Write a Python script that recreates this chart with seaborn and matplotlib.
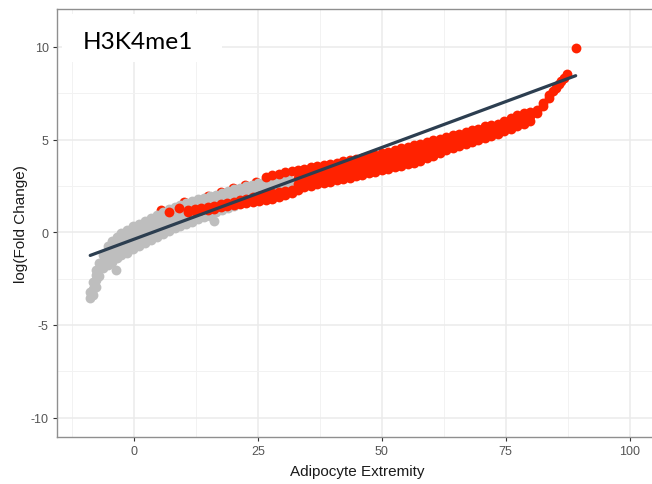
import numpy as np
import pandas as pd
import matplotlib
matplotlib.use("Agg")
import matplotlib.pyplot as plt
from matplotlib.ticker import MultipleLocator
from matplotlib.patches import Rectangle
import seaborn as sns

# values, one entry per column of the point cloud
gray_x = [-8.8, -8.3, -7.7, -7.0, -6.2, -5.3, -4.4, -3.5, -2.5, -1.4, -0.2, 1.0,
          2.2, 3.4, 4.6, 5.8, 7.0, 8.2, 9.4, 10.6, 11.8, 13.0, 14.2, 15.4, 16.6,
          17.8, 19.0, 20.2, 21.4, 22.6, 23.8, 25.0, 26.2, 27.4, 28.6, 29.8, 31.0,
          32.2, 32.9, -3.7, 16.2]
gray_y = [[-3.55, -3.2], [-3.4, -3.05, -2.7], [-2.95, -2.6, -2.3, -2.05],
          [-2.35, -2.0, -1.65], [-1.95, -1.6, -1.25], [-1.75, -1.4, -1.05, -0.75],
          [-1.6, -1.3, -1.0, -0.7, -0.45], [-1.4, -1.1, -0.8, -0.5, -0.25],
          [-1.25, -0.95, -0.65, -0.35, -0.05], [-1.1, -0.8, -0.5, -0.2, 0.13],
          [-0.9, -0.6, -0.3, 0.0, 0.32], [-0.75, -0.45, -0.15, 0.15, 0.46],
          [-0.58, -0.28, 0.02, 0.32, 0.62], [-0.4, -0.1, 0.2, 0.5, 0.78],
          [-0.25, 0.05, 0.35, 0.65, 0.93], [-0.1, 0.2, 0.5, 0.8, 1.1],
          [0.07, 0.37, 0.67, 0.97, 1.25], [0.22, 0.52, 0.82, 1.12, 1.35],
          [0.35, 0.65, 0.95, 1.25, 1.47], [0.47, 0.77, 1.07, 1.37, 1.57],
          [0.58, 0.88, 1.18, 1.48, 1.68], [0.7, 1.0, 1.3, 1.6, 1.78],
          [0.8, 1.1, 1.4, 1.7, 1.87], [0.9, 1.2, 1.5, 1.8, 1.95],
          [1.1, 1.4, 1.7, 2.03], [1.2, 1.5, 1.8, 2.12], [1.3, 1.6, 1.9, 2.22],
          [1.4, 1.7, 2.0, 2.32], [1.9, 2.2, 2.4], [2.0, 2.25, 2.48],
          [2.1, 2.35, 2.56], [2.2, 2.45, 2.65], [2.3, 2.55, 2.73],
          [2.4, 2.6, 2.8], [2.5, 2.75], [2.55, 2.8], [2.6, 2.85], [2.65], [2.7],
          [-2.05], [0.63]]

# red points hidden behind the grey cloud, peeking out along its top edge
fleck_x = [5.4, 10.2, 14.9, 17.6, 20.0, 22.4, 24.6]
fleck_y = [1.22, 1.62, 1.98, 2.18, 2.38, 2.55, 2.72]

red_x = [7.0, 9.1,
         11.0, 12.3, 13.6, 14.9, 16.2, 17.5, 18.8, 20.1, 21.4, 22.7, 24.0, 25.3,
         26.6, 27.9, 29.2, 30.5, 31.8, 33.1, 34.4, 35.7, 37.0, 38.3, 39.6, 40.9,
         42.2, 43.5, 44.8, 46.1, 47.4, 48.7, 50.0, 51.3, 52.6, 53.9, 55.2, 56.5,
         57.8, 59.1, 60.4, 61.7, 63.0, 64.3, 65.6, 66.9, 68.2, 69.5, 70.8, 72.1,
         73.4, 74.7, 76.0, 77.3, 78.6, 79.9, 81.2, 82.5, 83.8, 84.5, 85.1, 85.7,
         86.2, 86.8, 87.4, 89.1]
red_y = [[1.12], [1.3],
         [1.1, 1.2], [1.14, 1.25], [1.18, 1.3], [1.22, 1.35], [1.28, 1.42],
         [1.34, 1.5], [1.4, 1.58], [1.46, 1.66], [1.52, 1.75],
         [1.57, 1.82], [1.62, 1.9], [1.68, 1.98],
         [1.75, 2.05, 3.0], [1.82, 2.1, 3.08], [1.9, 2.18, 3.16],
         [2.0, 2.22, 3.24], [2.1, 2.28, 3.3],
         [2.3, 2.62, 2.95, 3.37], [2.43, 2.77, 3.1, 3.43], [2.5, 2.83, 3.17, 3.5],
         [2.58, 2.9, 3.23, 3.56], [2.65, 2.97, 3.3, 3.63], [2.72, 3.04, 3.36, 3.69],
         [2.8, 3.12, 3.44, 3.76], [2.87, 3.19, 3.5, 3.82], [2.94, 3.26, 3.57, 3.89],
         [3.01, 3.33, 3.64, 3.96], [3.1, 3.41, 3.72, 4.03], [3.18, 3.49, 3.8, 4.11],
         [3.26, 3.57, 3.88, 4.19], [3.34, 3.65, 3.96, 4.27], [3.42, 3.73, 4.04, 4.35],
         [3.5, 3.81, 4.12, 4.44], [3.59, 3.9, 4.21, 4.53], [3.67, 3.98, 4.29, 4.61],
         [3.76, 4.07, 4.38, 4.7], [3.86, 4.17, 4.48, 4.79], [4.0, 4.3, 4.6, 4.88],
         [4.14, 4.42, 4.7, 4.97], [4.28, 4.54, 4.8, 5.06], [4.42, 4.67, 4.91, 5.15],
         [4.56, 4.9, 5.24], [4.66, 4.99, 5.32], [4.76, 5.08, 5.4], [4.87, 5.18, 5.5],
         [4.97, 5.28, 5.6], [5.08, 5.4, 5.72], [5.2, 5.5, 5.8], [5.32, 5.6, 5.86],
         [5.44, 5.73, 6.02], [5.58, 5.88, 6.19], [5.72, 6.0, 6.31], [5.87, 6.14, 6.41],
         [6.03, 6.27, 6.51], [6.42, 6.62], [6.8, 7.0], [7.24, 7.42], [7.6], [7.8],
         [8.0], [8.15], [8.35], [8.55], [9.93]]

# fitted lm line (end points)
fit_x = [-8.8, 89.1]
fit_y = [-1.25, 8.45]

x_ticks = [0, 25, 50, 75, 100]
y_ticks = [-10, -5, 0, 5, 10]


def flatten(xs, ys, group):
    rows = []
    for x, col in zip(xs, ys):
        for y in col:
            rows.append({"extremity": x, "logfc": y, "group": group})
    return rows


gray_df = pd.DataFrame(flatten(gray_x, gray_y, "other"))
red_df = pd.DataFrame(flatten(red_x, red_y, "sig"))
fleck_df = pd.DataFrame({"extremity": fleck_x, "logfc": fleck_y})
fit = pd.DataFrame({"extremity": fit_x, "logfc": fit_y})

sns.set_theme(style="white")
plt.rcParams["font.family"] = ["Liberation Sans", "DejaVu Sans"]
plt.rcParams["axes.unicode_minus"] = False

fig = plt.figure(figsize=(6.52, 4.85), dpi=100)
ax = fig.add_axes([57 / 652, 47 / 485, 600 / 652, 428 / 485])

red = "#FF2200"
pt = dict(x="extremity", y="logfc", s=50, linewidth=0, legend=False, ax=ax)
sns.scatterplot(data=fleck_df, color=red, **pt)
sns.scatterplot(data=gray_df, color="#BEBEBE", **pt)
sns.scatterplot(data=red_df, color=red, **pt)
sns.lineplot(data=fit, x="extremity", y="logfc", color="#2C3E50",
             linewidth=2.3, ax=ax)

ax.set_xlim(-15.5, 105.5)
ax.set_ylim(-11.05, 12.05)
ax.xaxis.set_minor_locator(MultipleLocator(12.5))
ax.yaxis.set_minor_locator(MultipleLocator(2.5))
ax.set_xticks(x_ticks)
ax.set_yticks(y_ticks)
ax.grid(True, which="major", color="#EBEBEB", linewidth=1.1)
ax.grid(True, which="minor", color="#F2F2F2", linewidth=0.7)
ax.set_axisbelow(True)
for sp in ax.spines.values():
    sp.set_color("#8F8F8F")
    sp.set_linewidth(1.0)
ax.tick_params(axis="both", which="major", length=3, width=0.8, color="#333333",
               labelsize=9, labelcolor="#555555", pad=3, bottom=True, left=True)
ax.tick_params(axis="both", which="minor", length=0)

ax.set_xlabel("Adipocyte Extremity", fontsize=11, color="#1A1A1A", labelpad=5)
ax.set_ylabel("log(Fold Change)", fontsize=11, color="#1A1A1A", labelpad=2)

# title box pasted over the top-left of the panel
fig.patches.append(Rectangle((62 / 652, 1 - 63 / 485), 160 / 652, 48 / 485,
                             transform=fig.transFigure, facecolor="white",
                             edgecolor="none", zorder=5))
fig.text(83 / 652, 1 - 42.5 / 485, "H3K4me1", fontsize=17.6,
         family=["Lato", "DejaVu Sans"], color="black", ha="left", va="center",
         zorder=6)

fig.savefig("out.png", dpi=100)
